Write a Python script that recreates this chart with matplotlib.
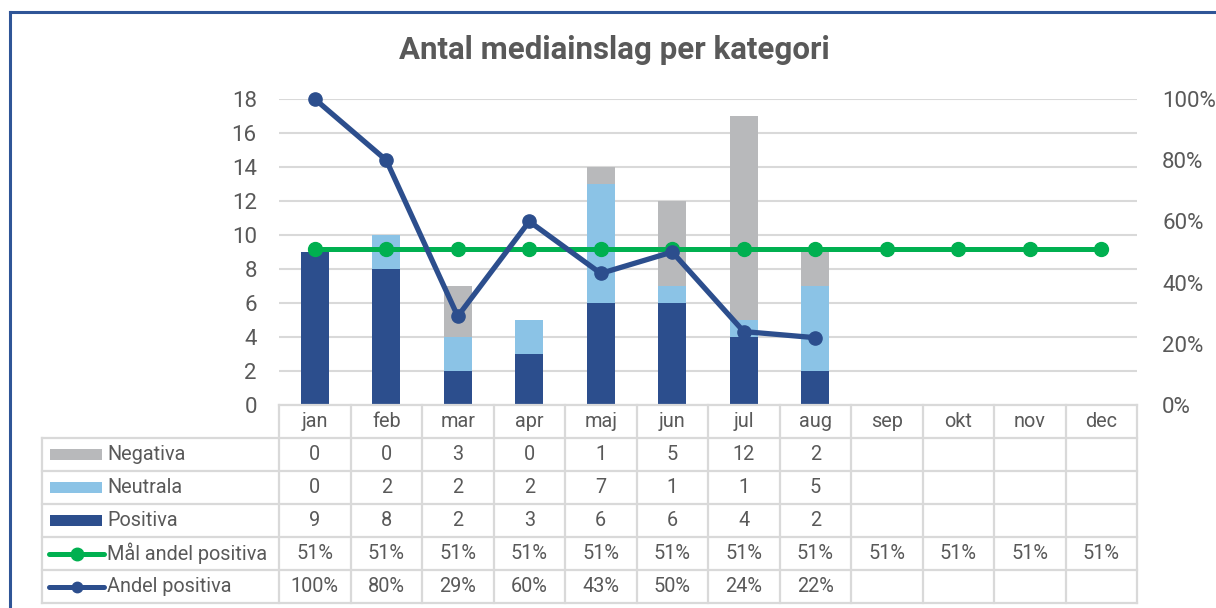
import matplotlib
matplotlib.use("Agg")
import matplotlib.pyplot as plt
from matplotlib import font_manager
from matplotlib.lines import Line2D
from matplotlib.patches import Rectangle
from matplotlib.ticker import FuncFormatter

# ---------------- data ----------------
months = ["jan", "feb", "mar", "apr", "maj", "jun", "jul", "aug", "sep", "okt", "nov", "dec"]
negativa = [0, 0, 3, 0, 1, 5, 12, 2]
neutrala = [0, 2, 2, 2, 7, 1, 1, 5]
positiva = [9, 8, 2, 3, 6, 6, 4, 2]
mal_andel = [0.51] * 12
andel_positiva = [1.00, 0.80, 0.29, 0.60, 0.43, 0.50, 0.24, 0.22]

title = "Antal mediainslag per kategori"
row_labels = ["Negativa", "Neutrala", "Positiva", "Mål andel positiva", "Andel positiva"]

# ---------------- style ----------------
C_NEG = "#B8B9BB"
C_NEU = "#8BC3E6"
C_POS = "#2C4E8D"
C_GREEN = "#00B050"
C_LINE = "#2C4E8D"
C_TEXT = "#595959"
C_GRID = "#D9D9D9"

avail = {f.name for f in font_manager.fontManager.ttflist}
def pick(cands):
    for c in cands:
        if c in avail:
            return c
    return "DejaVu Sans"

BODY = pick(["Roboto", "Lato", "Open Sans", "DejaVu Sans"])
TITLEF = pick(["Roboto", "DejaVu Sans"])
plt.rcParams["font.family"] = [BODY, "DejaVu Sans"]

W, H = 1216, 608
fig = plt.figure(figsize=(W / 100, H / 100), dpi=100)

def fx(px):
    return px / W
def fy(py):
    return 1 - py / H

# frame border (left and top visible)
fig.add_artist(Line2D([fx(9.5), fx(9.5)], [fy(11.5), -0.1], color="#2F5597", lw=2.2,
                      transform=fig.transFigure))
fig.add_artist(Line2D([fx(9.5), 1.1], [fy(11.5), fy(11.5)], color="#2F5597", lw=2.2,
                      transform=fig.transFigure))

fig.text(fx(614), fy(50), title, ha="center", va="center", fontsize=22.5,
         fontweight="bold", color=C_TEXT, family=[TITLEF, "DejaVu Sans"])

# ---------------- main axes ----------------
AX_L, AX_R, AX_T, AX_B = 279, 1137, 99, 405
ax = fig.add_axes([fx(AX_L), fy(AX_B), fx(AX_R - AX_L), (AX_B - AX_T) / H])
n = len(months)
ax.set_xlim(-0.5, n - 0.5)
ax.set_ylim(0, 18)
ax.set_yticks(range(0, 19, 2))
ax.set_xticks([])
for s in ax.spines.values():
    s.set_visible(False)
ax.grid(axis="y", color=C_GRID, lw=1.5, zorder=0)
ax.set_axisbelow(True)
ax.tick_params(axis="y", length=0, pad=16, labelsize=16, labelcolor=C_TEXT)

xs = list(range(len(positiva)))
bw = 0.39
bot_neu = positiva
bot_neg = [p + u for p, u in zip(positiva, neutrala)]
ax.bar(xs, positiva, bw, color=C_POS, zorder=2)
ax.bar(xs, neutrala, bw, bottom=bot_neu, color=C_NEU, zorder=2)
ax.bar(xs, negativa, bw, bottom=bot_neg, color=C_NEG, zorder=2)

ax2 = ax.twinx()
ax2.set_ylim(0, 1)
ax2.set_yticks([0, 0.2, 0.4, 0.6, 0.8, 1.0])
ax2.yaxis.set_major_formatter(FuncFormatter(lambda v, p: f"{v*100:.0f}%"))
for s in ax2.spines.values():
    s.set_visible(False)
ax2.tick_params(axis="y", length=0, pad=18, labelsize=16, labelcolor=C_TEXT)
ax2.plot(range(n), mal_andel, color=C_GREEN, lw=3.6, marker="o", ms=10,
         clip_on=False, zorder=3)
ax2.plot(range(len(andel_positiva)), andel_positiva, color=C_LINE, lw=3.8,
         marker="o", ms=9.5, clip_on=False, zorder=4)

# ---------------- data table ----------------
TB_L, TB_T, TB_B = 42, 405, 603
colw_px = (AX_R - AX_L) / n
left_units = (AX_L - TB_L) / colw_px
tax = fig.add_axes([fx(TB_L), fy(TB_B), fx(AX_R - TB_L), (TB_B - TB_T) / H])
xl = -0.5 - left_units
tax.set_xlim(xl, n - 0.5)
tax.set_ylim(6, 0)
tax.axis("off")

lw_t = 1.6
# horizontal lines
tax.plot([-0.5, n - 0.5], [0, 0], color=C_GRID, lw=lw_t, clip_on=False)
for r in range(1, 7):
    tax.plot([xl, n - 0.5], [r, r], color=C_GRID, lw=lw_t, clip_on=False)
# vertical lines
for k in range(n + 1):
    tax.plot([-0.5 + k, -0.5 + k], [0, 6], color=C_GRID, lw=lw_t, clip_on=False)
tax.plot([xl, xl], [1, 6], color=C_GRID, lw=lw_t, clip_on=False)

FS = 14.3
for i, m in enumerate(months):
    tax.text(i, 0.5, m, ha="center", va="center", fontsize=FS, color=C_TEXT)

rows_vals = [
    [str(v) for v in negativa],
    [str(v) for v in neutrala],
    [str(v) for v in positiva],
    [f"{v*100:.0f}%" for v in mal_andel],
    [f"{v*100:.0f}%" for v in andel_positiva],
]
for r, vals in enumerate(rows_vals):
    for i, v in enumerate(vals):
        tax.text(i, r + 1.5, v, ha="center", va="center", fontsize=FS, color=C_TEXT)

# row labels and legend keys (pixel-based positions converted to data)
def ux(px):
    return xl + (px - TB_L) / colw_px

key_cols = [C_NEG, C_NEU, C_POS]
for r in range(3):
    tax.add_patch(Rectangle((ux(50), r + 1.5 - 0.17), ux(102) - ux(50), 0.34,
                            color=key_cols[r], lw=0))
for r, col, msz in [(3, C_GREEN, 9), (4, C_LINE, 7.5)]:
    tax.plot([ux(49), ux(104)], [r + 1.5, r + 1.5], color=col, lw=3.6,
             solid_capstyle="round", clip_on=False)
    tax.plot([ux(76.5)], [r + 1.5], marker="o", color=col, ms=msz, clip_on=False)
for r, lab in enumerate(row_labels):
    tax.text(ux(107), r + 1.5, lab, ha="left", va="center", fontsize=FS, color=C_TEXT)

fig.savefig("out.png", dpi=100)
